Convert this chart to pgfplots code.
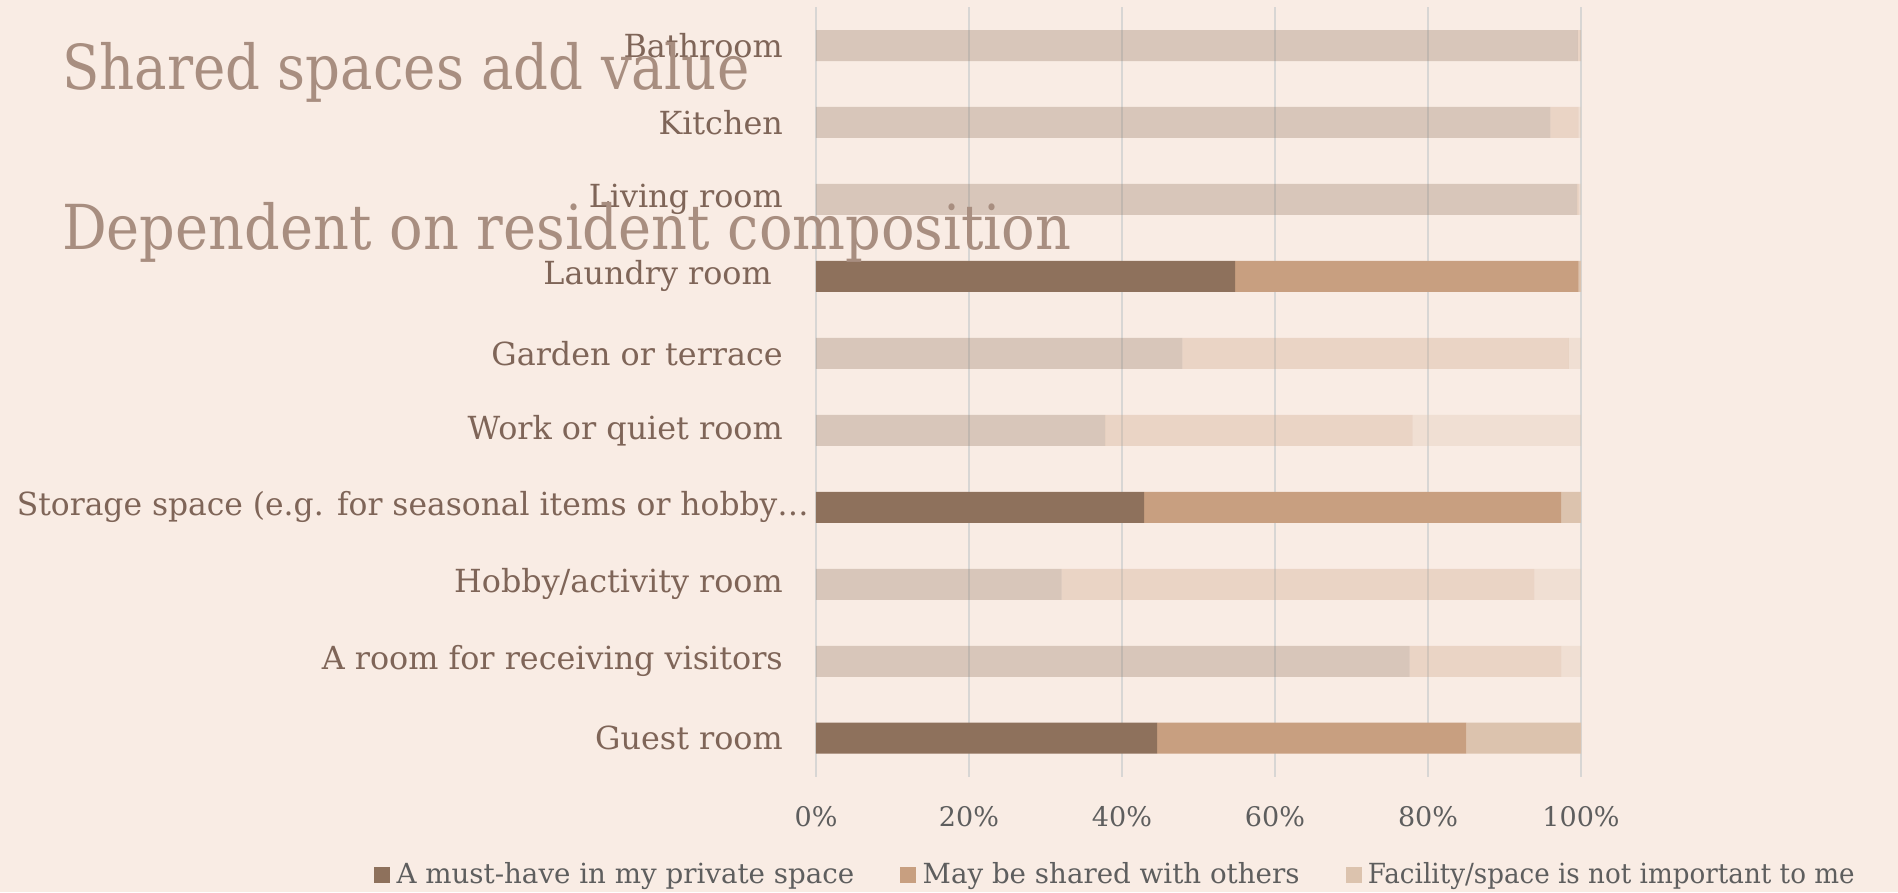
\documentclass[border=0pt]{standalone}
\usepackage{pgfplots}
\pgfplotsset{compat=1.18}
\usepackage{pgfplotstable}
\usepackage{fontspec}
\setmainfont{DejaVu Serif}
\newfontfamily\titlefont[FakeStretch=0.88]{DejaVu Serif}
\newfontfamily\titlefontb[FakeStretch=0.9]{DejaVu Serif}
\newfontfamily\legnarrow[FakeStretch=0.945]{DejaVu Serif}
\newfontfamily\labnarrow[FakeStretch=0.986]{DejaVu Serif}
\definecolor{bg}{HTML}{F9ECE4}
\definecolor{cA}{HTML}{8E715C}
\definecolor{cB}{HTML}{C89F80}
\definecolor{cC}{HTML}{DCC3AE}
\definecolor{gridc}{HTML}{D8D6D4}
\definecolor{titlec}{HTML}{A88E80}
\definecolor{labelc}{HTML}{7F6558}
\definecolor{tickc}{HTML}{5E5E5E}

\pgfplotstableread{
y  a1    a2    a3    b1    b2    b3
0  99.6  0.4   0     0     0     0
1  96.0  3.7   0.3   0     0     0
2  99.5  0.3   0.2   0     0     0
3  0     0     0     54.8  44.9  0.3
4  47.9  50.5  1.6   0     0     0
5  37.8  40.2  22.0  0     0     0
6  0     0     0     42.9  54.5  2.6
7  32.1  61.8  6.1   0     0     0
8  77.6  19.8  2.6   0     0     0
9  0     0     0     44.6  40.4  15.0
}\data

\begin{document}
\begin{tikzpicture}
\useasboundingbox (0pt,0pt) rectangle (1898pt,-892pt);
\fill[bg] (0pt,0pt) rectangle (1898pt,-892pt);
\begin{axis}[
  at={(816pt,-776.7pt)}, anchor=south west,
  scale only axis, width=765pt, height=769.7pt,
  xbar stacked, bar width=31pt,
  xmin=0, xmax=100, ymin=-0.5, ymax=9.5, y dir=reverse,
  xtick={0,20,40,60,80,100},
  xticklabels={0\%,20\%,40\%,60\%,80\%,100\%},
  ytick={0,1,2,3,4,5,6,7,8,9},
  yticklabels={Bathroom,Kitchen,Living room,{Laundry room\hspace*{11pt}},Garden or terrace,Work or quiet room,{\labnarrow Storage space (e.g. for seasonal items or hobby…\hspace*{-26pt}},Hobby/activity room,A room for receiving visitors,Guest room},
  xmajorgrids, ymajorgrids=false,
  grid style={color=gridc, line width=1.3pt},
  axis line style={draw=none},
  major tick length=0pt,
  tick style={draw=none},
  yticklabel style={font=\fontsize{31.8}{38}\selectfont, text=labelc, inner sep=0pt, xshift=-33pt},
  xticklabel style={font=\fontsize{27}{32}\selectfont, text=tickc, inner sep=0pt, anchor=center, yshift=-40pt},
  legend columns=3,
  legend style={draw=none, fill=none, inner sep=0pt, at={(-0.5778,-0.1264)}, anchor=west,
    font=\fontsize{27.7}{33}\selectfont, text=tickc,
    /tikz/every even column/.append style={column sep=46pt},
    nodes={inner sep=0pt}},
  legend cell align=left,
  legend entries={A must-have in my private space,May be shared with others,{\legnarrow Facility/space is not important to me}},
]
\addlegendimage{legend image code/.code={\fill[cA] (0pt,-8pt) rectangle (15pt,7pt);\path (22pt,0pt);}}
\addlegendimage{legend image code/.code={\fill[cB] (0pt,-8pt) rectangle (15pt,7pt);\path (22pt,0pt);}}
\addlegendimage{legend image code/.code={\fill[cC] (0pt,-8pt) rectangle (15pt,7pt);\path (22pt,0pt);}}
\addplot[fill=cA, fill opacity=0.3, draw=none] table[x=a1,y=y]{\data};
\addplot[fill=cB, fill opacity=0.3, draw=none] table[x=a2,y=y]{\data};
\addplot[fill=cC, fill opacity=0.3, draw=none] table[x=a3,y=y]{\data};
\addplot[fill=cA, draw=none] table[x=b1,y=y]{\data};
\addplot[fill=cB, draw=none] table[x=b2,y=y]{\data};
\addplot[fill=cC, draw=none] table[x=b3,y=y]{\data};
\end{axis}
\node[anchor=base west, inner sep=0pt, text=titlec, font=\titlefont\fontsize{62}{70}\selectfont] at (62pt,-89pt) {Shared spaces add value};
\node[anchor=base west, inner sep=0pt, text=titlec, font=\titlefontb\fontsize{62}{70}\selectfont] at (62pt,-249pt) {Dependent on resident composition};
\end{tikzpicture}
\end{document}
